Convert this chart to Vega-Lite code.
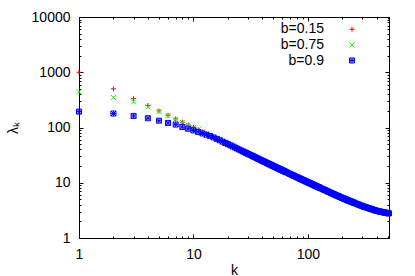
{
"$schema":"https://vega.github.io/schema/vega-lite/v6.json",
"width":310,"height":221,
"autosize":{"type":"none"},
"padding":{"left":79,"top":17,"right":26,"bottom":38},
"config":{"view":{"stroke":"#000","strokeWidth":1},"font":"Liberation Sans",
"axis":{"grid":false,"domain":false,"tickColor":"#000","labelColor":"#000","titleColor":"#000","labelFont":"Liberation Sans","labelFontSize":14,"titleFont":"Liberation Sans","titleFontSize":14,"titleFontWeight":"normal","tickWidth":1},
"legend":{"orient":"none","legendX":266,"legendY":5.3,"labelAlign":"right","labelOffset":-35,"labelFontSize":14,"labelFont":"Liberation Sans","labelColor":"#000","rowPadding":1.6,"padding":0,"symbolStrokeWidth":1,"symbolSize":25,"symbolOpacity":1}},
"data":{"values":[
{"k":1,"b":"b=0.15","v":1000},{"k":2,"b":"b=0.15","v":500},{"k":3,"b":"b=0.15","v":333.3},{"k":4,"b":"b=0.15","v":250},{"k":5,"b":"b=0.15","v":200},{"k":6,"b":"b=0.15","v":166.7},{"k":7,"b":"b=0.15","v":142.9},{"k":8,"b":"b=0.15","v":125},{"k":9,"b":"b=0.15","v":111.1},{"k":10,"b":"b=0.15","v":100},
{"k":11,"b":"b=0.15","v":90.9},{"k":12,"b":"b=0.15","v":83.3},{"k":13,"b":"b=0.15","v":76.9},{"k":14,"b":"b=0.15","v":71.4},{"k":15,"b":"b=0.15","v":66.7},{"k":16,"b":"b=0.15","v":62.5},{"k":17,"b":"b=0.15","v":58.8},{"k":18,"b":"b=0.15","v":55.6},{"k":19,"b":"b=0.15","v":52.6},{"k":20,"b":"b=0.15","v":50},
{"k":21,"b":"b=0.15","v":47.6},{"k":22,"b":"b=0.15","v":45.5},{"k":23,"b":"b=0.15","v":43.5},{"k":24,"b":"b=0.15","v":41.7},{"k":25,"b":"b=0.15","v":40},{"k":26,"b":"b=0.15","v":38.5},{"k":27,"b":"b=0.15","v":37.0},{"k":28,"b":"b=0.15","v":35.7},{"k":29,"b":"b=0.15","v":34.5},{"k":30,"b":"b=0.15","v":33.3},
{"k":31,"b":"b=0.15","v":32.3},{"k":32,"b":"b=0.15","v":31.3},{"k":33,"b":"b=0.15","v":30.3},{"k":34,"b":"b=0.15","v":29.4},{"k":35,"b":"b=0.15","v":28.6},{"k":36,"b":"b=0.15","v":27.8},{"k":37,"b":"b=0.15","v":27.0},{"k":38,"b":"b=0.15","v":26.3},{"k":39,"b":"b=0.15","v":25.6},{"k":40,"b":"b=0.15","v":25.0},
{"k":41,"b":"b=0.15","v":24.4},{"k":42,"b":"b=0.15","v":23.8},{"k":43,"b":"b=0.15","v":23.3},{"k":44,"b":"b=0.15","v":22.7},{"k":45,"b":"b=0.15","v":22.2},{"k":46,"b":"b=0.15","v":21.7},{"k":47,"b":"b=0.15","v":21.3},{"k":48,"b":"b=0.15","v":20.8},{"k":49,"b":"b=0.15","v":20.4},{"k":50,"b":"b=0.15","v":20.0},
{"k":51,"b":"b=0.15","v":19.61},{"k":52,"b":"b=0.15","v":19.25},{"k":53,"b":"b=0.15","v":18.89},{"k":54,"b":"b=0.15","v":18.55},{"k":55,"b":"b=0.15","v":18.22},{"k":56,"b":"b=0.15","v":17.9},{"k":57,"b":"b=0.15","v":17.59},{"k":58,"b":"b=0.15","v":17.3},{"k":59,"b":"b=0.15","v":17.01},{"k":60,"b":"b=0.15","v":16.73},
{"k":61,"b":"b=0.15","v":16.47},{"k":62,"b":"b=0.15","v":16.21},{"k":63,"b":"b=0.15","v":15.96},{"k":64,"b":"b=0.15","v":15.71},{"k":66,"b":"b=0.15","v":15.25},{"k":68,"b":"b=0.15","v":14.81},{"k":70,"b":"b=0.15","v":14.4},{"k":72,"b":"b=0.15","v":14.01},{"k":74,"b":"b=0.15","v":13.64},{"k":76,"b":"b=0.15","v":13.29},
{"k":78,"b":"b=0.15","v":12.96},{"k":80,"b":"b=0.15","v":12.65},{"k":82,"b":"b=0.15","v":12.35},{"k":84,"b":"b=0.15","v":12.07},{"k":86,"b":"b=0.15","v":11.8},{"k":88,"b":"b=0.15","v":11.54},{"k":90,"b":"b=0.15","v":11.29},{"k":92,"b":"b=0.15","v":11.05},{"k":94,"b":"b=0.15","v":10.83},{"k":96,"b":"b=0.15","v":10.61},
{"k":98,"b":"b=0.15","v":10.4},{"k":100,"b":"b=0.15","v":10.2},{"k":102,"b":"b=0.15","v":10.01},{"k":104,"b":"b=0.15","v":9.82},{"k":106,"b":"b=0.15","v":9.65},{"k":108,"b":"b=0.15","v":9.47},{"k":110,"b":"b=0.15","v":9.31},{"k":112,"b":"b=0.15","v":9.15},{"k":114,"b":"b=0.15","v":9.0},{"k":116,"b":"b=0.15","v":8.85},
{"k":118,"b":"b=0.15","v":8.71},{"k":120,"b":"b=0.15","v":8.57},{"k":122,"b":"b=0.15","v":8.43},{"k":124,"b":"b=0.15","v":8.31},{"k":126,"b":"b=0.15","v":8.18},{"k":128,"b":"b=0.15","v":8.06},{"k":132,"b":"b=0.15","v":7.83},{"k":136,"b":"b=0.15","v":7.61},{"k":140,"b":"b=0.15","v":7.4},{"k":144,"b":"b=0.15","v":7.21},
{"k":148,"b":"b=0.15","v":7.03},{"k":152,"b":"b=0.15","v":6.85},{"k":156,"b":"b=0.15","v":6.69},{"k":160,"b":"b=0.15","v":6.53},{"k":164,"b":"b=0.15","v":6.38},{"k":168,"b":"b=0.15","v":6.24},{"k":172,"b":"b=0.15","v":6.1},{"k":176,"b":"b=0.15","v":5.97},{"k":180,"b":"b=0.15","v":5.85},{"k":184,"b":"b=0.15","v":5.73},
{"k":188,"b":"b=0.15","v":5.62},{"k":192,"b":"b=0.15","v":5.51},{"k":196,"b":"b=0.15","v":5.41},{"k":200,"b":"b=0.15","v":5.31},{"k":204,"b":"b=0.15","v":5.22},{"k":208,"b":"b=0.15","v":5.13},{"k":212,"b":"b=0.15","v":5.05},{"k":216,"b":"b=0.15","v":4.97},{"k":220,"b":"b=0.15","v":4.89},{"k":224,"b":"b=0.15","v":4.81},
{"k":228,"b":"b=0.15","v":4.74},{"k":232,"b":"b=0.15","v":4.67},{"k":236,"b":"b=0.15","v":4.61},{"k":240,"b":"b=0.15","v":4.54},{"k":244,"b":"b=0.15","v":4.48},{"k":248,"b":"b=0.15","v":4.42},{"k":252,"b":"b=0.15","v":4.36},{"k":256,"b":"b=0.15","v":4.3},{"k":264,"b":"b=0.15","v":4.19},{"k":272,"b":"b=0.15","v":4.09},
{"k":280,"b":"b=0.15","v":3.99},{"k":288,"b":"b=0.15","v":3.9},{"k":296,"b":"b=0.15","v":3.82},{"k":304,"b":"b=0.15","v":3.74},{"k":312,"b":"b=0.15","v":3.67},{"k":320,"b":"b=0.15","v":3.61},{"k":328,"b":"b=0.15","v":3.55},{"k":336,"b":"b=0.15","v":3.49},{"k":344,"b":"b=0.15","v":3.43},{"k":352,"b":"b=0.15","v":3.38},
{"k":360,"b":"b=0.15","v":3.33},{"k":368,"b":"b=0.15","v":3.28},{"k":376,"b":"b=0.15","v":3.23},{"k":384,"b":"b=0.15","v":3.18},{"k":392,"b":"b=0.15","v":3.14},{"k":400,"b":"b=0.15","v":3.1},{"k":408,"b":"b=0.15","v":3.07},{"k":416,"b":"b=0.15","v":3.04},{"k":424,"b":"b=0.15","v":3.02},{"k":432,"b":"b=0.15","v":2.99},
{"k":440,"b":"b=0.15","v":2.97},{"k":448,"b":"b=0.15","v":2.95},{"k":456,"b":"b=0.15","v":2.92},{"k":464,"b":"b=0.15","v":2.9},{"k":472,"b":"b=0.15","v":2.88},{"k":480,"b":"b=0.15","v":2.86},{"k":488,"b":"b=0.15","v":2.84},{"k":496,"b":"b=0.15","v":2.82},{"k":504,"b":"b=0.15","v":2.8},{"k":512,"b":"b=0.15","v":2.79},
{"k":1,"b":"b=0.75","v":445},{"k":2,"b":"b=0.75","v":350},{"k":3,"b":"b=0.75","v":290},{"k":4,"b":"b=0.75","v":236},{"k":5,"b":"b=0.75","v":195},{"k":6,"b":"b=0.75","v":164},{"k":7,"b":"b=0.75","v":141},{"k":8,"b":"b=0.75","v":124},{"k":9,"b":"b=0.75","v":110.5},{"k":10,"b":"b=0.75","v":99.7},
{"k":11,"b":"b=0.75","v":90.9},{"k":12,"b":"b=0.75","v":83.3},{"k":13,"b":"b=0.75","v":76.9},{"k":14,"b":"b=0.75","v":71.4},{"k":15,"b":"b=0.75","v":66.7},{"k":16,"b":"b=0.75","v":62.5},{"k":17,"b":"b=0.75","v":58.8},{"k":18,"b":"b=0.75","v":55.6},{"k":19,"b":"b=0.75","v":52.6},{"k":20,"b":"b=0.75","v":50},
{"k":21,"b":"b=0.75","v":47.6},{"k":22,"b":"b=0.75","v":45.5},{"k":23,"b":"b=0.75","v":43.5},{"k":24,"b":"b=0.75","v":41.7},{"k":25,"b":"b=0.75","v":40},{"k":26,"b":"b=0.75","v":38.5},{"k":27,"b":"b=0.75","v":37.0},{"k":28,"b":"b=0.75","v":35.7},{"k":29,"b":"b=0.75","v":34.5},{"k":30,"b":"b=0.75","v":33.3},
{"k":31,"b":"b=0.75","v":32.3},{"k":32,"b":"b=0.75","v":31.3},{"k":33,"b":"b=0.75","v":30.3},{"k":34,"b":"b=0.75","v":29.4},{"k":35,"b":"b=0.75","v":28.6},{"k":36,"b":"b=0.75","v":27.8},{"k":37,"b":"b=0.75","v":27.0},{"k":38,"b":"b=0.75","v":26.3},{"k":39,"b":"b=0.75","v":25.6},{"k":40,"b":"b=0.75","v":25.0},
{"k":41,"b":"b=0.75","v":24.4},{"k":42,"b":"b=0.75","v":23.8},{"k":43,"b":"b=0.75","v":23.3},{"k":44,"b":"b=0.75","v":22.7},{"k":45,"b":"b=0.75","v":22.2},{"k":46,"b":"b=0.75","v":21.7},{"k":47,"b":"b=0.75","v":21.3},{"k":48,"b":"b=0.75","v":20.8},{"k":49,"b":"b=0.75","v":20.4},{"k":50,"b":"b=0.75","v":20.0},
{"k":51,"b":"b=0.75","v":19.61},{"k":52,"b":"b=0.75","v":19.25},{"k":53,"b":"b=0.75","v":18.89},{"k":54,"b":"b=0.75","v":18.55},{"k":55,"b":"b=0.75","v":18.22},{"k":56,"b":"b=0.75","v":17.9},{"k":57,"b":"b=0.75","v":17.59},{"k":58,"b":"b=0.75","v":17.3},{"k":59,"b":"b=0.75","v":17.01},{"k":60,"b":"b=0.75","v":16.73},
{"k":61,"b":"b=0.75","v":16.47},{"k":62,"b":"b=0.75","v":16.21},{"k":63,"b":"b=0.75","v":15.96},{"k":64,"b":"b=0.75","v":15.71},{"k":66,"b":"b=0.75","v":15.25},{"k":68,"b":"b=0.75","v":14.81},{"k":70,"b":"b=0.75","v":14.4},{"k":72,"b":"b=0.75","v":14.01},{"k":74,"b":"b=0.75","v":13.64},{"k":76,"b":"b=0.75","v":13.29},
{"k":78,"b":"b=0.75","v":12.96},{"k":80,"b":"b=0.75","v":12.65},{"k":82,"b":"b=0.75","v":12.35},{"k":84,"b":"b=0.75","v":12.07},{"k":86,"b":"b=0.75","v":11.8},{"k":88,"b":"b=0.75","v":11.54},{"k":90,"b":"b=0.75","v":11.29},{"k":92,"b":"b=0.75","v":11.05},{"k":94,"b":"b=0.75","v":10.83},{"k":96,"b":"b=0.75","v":10.61},
{"k":98,"b":"b=0.75","v":10.4},{"k":100,"b":"b=0.75","v":10.2},{"k":102,"b":"b=0.75","v":10.01},{"k":104,"b":"b=0.75","v":9.82},{"k":106,"b":"b=0.75","v":9.65},{"k":108,"b":"b=0.75","v":9.47},{"k":110,"b":"b=0.75","v":9.31},{"k":112,"b":"b=0.75","v":9.15},{"k":114,"b":"b=0.75","v":9.0},{"k":116,"b":"b=0.75","v":8.85},
{"k":118,"b":"b=0.75","v":8.71},{"k":120,"b":"b=0.75","v":8.57},{"k":122,"b":"b=0.75","v":8.43},{"k":124,"b":"b=0.75","v":8.31},{"k":126,"b":"b=0.75","v":8.18},{"k":128,"b":"b=0.75","v":8.06},{"k":132,"b":"b=0.75","v":7.83},{"k":136,"b":"b=0.75","v":7.61},{"k":140,"b":"b=0.75","v":7.4},{"k":144,"b":"b=0.75","v":7.21},
{"k":148,"b":"b=0.75","v":7.03},{"k":152,"b":"b=0.75","v":6.85},{"k":156,"b":"b=0.75","v":6.69},{"k":160,"b":"b=0.75","v":6.53},{"k":164,"b":"b=0.75","v":6.38},{"k":168,"b":"b=0.75","v":6.24},{"k":172,"b":"b=0.75","v":6.1},{"k":176,"b":"b=0.75","v":5.97},{"k":180,"b":"b=0.75","v":5.85},{"k":184,"b":"b=0.75","v":5.73},
{"k":188,"b":"b=0.75","v":5.62},{"k":192,"b":"b=0.75","v":5.51},{"k":196,"b":"b=0.75","v":5.41},{"k":200,"b":"b=0.75","v":5.31},{"k":204,"b":"b=0.75","v":5.22},{"k":208,"b":"b=0.75","v":5.13},{"k":212,"b":"b=0.75","v":5.05},{"k":216,"b":"b=0.75","v":4.97},{"k":220,"b":"b=0.75","v":4.89},{"k":224,"b":"b=0.75","v":4.81},
{"k":228,"b":"b=0.75","v":4.74},{"k":232,"b":"b=0.75","v":4.67},{"k":236,"b":"b=0.75","v":4.61},{"k":240,"b":"b=0.75","v":4.54},{"k":244,"b":"b=0.75","v":4.48},{"k":248,"b":"b=0.75","v":4.42},{"k":252,"b":"b=0.75","v":4.36},{"k":256,"b":"b=0.75","v":4.3},{"k":264,"b":"b=0.75","v":4.19},{"k":272,"b":"b=0.75","v":4.09},
{"k":280,"b":"b=0.75","v":3.99},{"k":288,"b":"b=0.75","v":3.9},{"k":296,"b":"b=0.75","v":3.82},{"k":304,"b":"b=0.75","v":3.74},{"k":312,"b":"b=0.75","v":3.67},{"k":320,"b":"b=0.75","v":3.61},{"k":328,"b":"b=0.75","v":3.55},{"k":336,"b":"b=0.75","v":3.49},{"k":344,"b":"b=0.75","v":3.43},{"k":352,"b":"b=0.75","v":3.38},
{"k":360,"b":"b=0.75","v":3.33},{"k":368,"b":"b=0.75","v":3.28},{"k":376,"b":"b=0.75","v":3.23},{"k":384,"b":"b=0.75","v":3.18},{"k":392,"b":"b=0.75","v":3.14},{"k":400,"b":"b=0.75","v":3.1},{"k":408,"b":"b=0.75","v":3.07},{"k":416,"b":"b=0.75","v":3.04},{"k":424,"b":"b=0.75","v":3.02},{"k":432,"b":"b=0.75","v":2.99},
{"k":440,"b":"b=0.75","v":2.97},{"k":448,"b":"b=0.75","v":2.95},{"k":456,"b":"b=0.75","v":2.92},{"k":464,"b":"b=0.75","v":2.9},{"k":472,"b":"b=0.75","v":2.88},{"k":480,"b":"b=0.75","v":2.86},{"k":488,"b":"b=0.75","v":2.84},{"k":496,"b":"b=0.75","v":2.82},{"k":504,"b":"b=0.75","v":2.8},{"k":512,"b":"b=0.75","v":2.79},
{"k":1,"b":"b=0.9","v":194},{"k":2,"b":"b=0.9","v":179},{"k":3,"b":"b=0.9","v":162},{"k":4,"b":"b=0.9","v":147},{"k":5,"b":"b=0.9","v":133},{"k":6,"b":"b=0.9","v":121},{"k":7,"b":"b=0.9","v":113},{"k":8,"b":"b=0.9","v":102},{"k":9,"b":"b=0.9","v":95},{"k":10,"b":"b=0.9","v":88.5},
{"k":11,"b":"b=0.9","v":82.5},{"k":12,"b":"b=0.9","v":78},{"k":13,"b":"b=0.9","v":74},{"k":14,"b":"b=0.9","v":70},{"k":15,"b":"b=0.9","v":66},{"k":16,"b":"b=0.9","v":62.3},{"k":17,"b":"b=0.9","v":58.6},{"k":18,"b":"b=0.9","v":55.5},{"k":19,"b":"b=0.9","v":52.5},{"k":20,"b":"b=0.9","v":50},
{"k":21,"b":"b=0.9","v":47.6},{"k":22,"b":"b=0.9","v":45.5},{"k":23,"b":"b=0.9","v":43.5},{"k":24,"b":"b=0.9","v":41.7},{"k":25,"b":"b=0.9","v":40},{"k":26,"b":"b=0.9","v":38.5},{"k":27,"b":"b=0.9","v":37.0},{"k":28,"b":"b=0.9","v":35.7},{"k":29,"b":"b=0.9","v":34.5},{"k":30,"b":"b=0.9","v":33.3},
{"k":31,"b":"b=0.9","v":32.3},{"k":32,"b":"b=0.9","v":31.3},{"k":33,"b":"b=0.9","v":30.3},{"k":34,"b":"b=0.9","v":29.4},{"k":35,"b":"b=0.9","v":28.6},{"k":36,"b":"b=0.9","v":27.8},{"k":37,"b":"b=0.9","v":27.0},{"k":38,"b":"b=0.9","v":26.3},{"k":39,"b":"b=0.9","v":25.6},{"k":40,"b":"b=0.9","v":25.0},
{"k":41,"b":"b=0.9","v":24.4},{"k":42,"b":"b=0.9","v":23.8},{"k":43,"b":"b=0.9","v":23.3},{"k":44,"b":"b=0.9","v":22.7},{"k":45,"b":"b=0.9","v":22.2},{"k":46,"b":"b=0.9","v":21.7},{"k":47,"b":"b=0.9","v":21.3},{"k":48,"b":"b=0.9","v":20.8},{"k":49,"b":"b=0.9","v":20.4},{"k":50,"b":"b=0.9","v":20.0},
{"k":51,"b":"b=0.9","v":19.61},{"k":52,"b":"b=0.9","v":19.25},{"k":53,"b":"b=0.9","v":18.89},{"k":54,"b":"b=0.9","v":18.55},{"k":55,"b":"b=0.9","v":18.22},{"k":56,"b":"b=0.9","v":17.9},{"k":57,"b":"b=0.9","v":17.59},{"k":58,"b":"b=0.9","v":17.3},{"k":59,"b":"b=0.9","v":17.01},{"k":60,"b":"b=0.9","v":16.73},
{"k":61,"b":"b=0.9","v":16.47},{"k":62,"b":"b=0.9","v":16.21},{"k":63,"b":"b=0.9","v":15.96},{"k":64,"b":"b=0.9","v":15.71},{"k":66,"b":"b=0.9","v":15.25},{"k":68,"b":"b=0.9","v":14.81},{"k":70,"b":"b=0.9","v":14.4},{"k":72,"b":"b=0.9","v":14.01},{"k":74,"b":"b=0.9","v":13.64},{"k":76,"b":"b=0.9","v":13.29},
{"k":78,"b":"b=0.9","v":12.96},{"k":80,"b":"b=0.9","v":12.65},{"k":82,"b":"b=0.9","v":12.35},{"k":84,"b":"b=0.9","v":12.07},{"k":86,"b":"b=0.9","v":11.8},{"k":88,"b":"b=0.9","v":11.54},{"k":90,"b":"b=0.9","v":11.29},{"k":92,"b":"b=0.9","v":11.05},{"k":94,"b":"b=0.9","v":10.83},{"k":96,"b":"b=0.9","v":10.61},
{"k":98,"b":"b=0.9","v":10.4},{"k":100,"b":"b=0.9","v":10.2},{"k":102,"b":"b=0.9","v":10.01},{"k":104,"b":"b=0.9","v":9.82},{"k":106,"b":"b=0.9","v":9.65},{"k":108,"b":"b=0.9","v":9.47},{"k":110,"b":"b=0.9","v":9.31},{"k":112,"b":"b=0.9","v":9.15},{"k":114,"b":"b=0.9","v":9.0},{"k":116,"b":"b=0.9","v":8.85},
{"k":118,"b":"b=0.9","v":8.71},{"k":120,"b":"b=0.9","v":8.57},{"k":122,"b":"b=0.9","v":8.43},{"k":124,"b":"b=0.9","v":8.31},{"k":126,"b":"b=0.9","v":8.18},{"k":128,"b":"b=0.9","v":8.06},{"k":132,"b":"b=0.9","v":7.83},{"k":136,"b":"b=0.9","v":7.61},{"k":140,"b":"b=0.9","v":7.4},{"k":144,"b":"b=0.9","v":7.21},
{"k":148,"b":"b=0.9","v":7.03},{"k":152,"b":"b=0.9","v":6.85},{"k":156,"b":"b=0.9","v":6.69},{"k":160,"b":"b=0.9","v":6.53},{"k":164,"b":"b=0.9","v":6.38},{"k":168,"b":"b=0.9","v":6.24},{"k":172,"b":"b=0.9","v":6.1},{"k":176,"b":"b=0.9","v":5.97},{"k":180,"b":"b=0.9","v":5.85},{"k":184,"b":"b=0.9","v":5.73},
{"k":188,"b":"b=0.9","v":5.62},{"k":192,"b":"b=0.9","v":5.51},{"k":196,"b":"b=0.9","v":5.41},{"k":200,"b":"b=0.9","v":5.31},{"k":204,"b":"b=0.9","v":5.22},{"k":208,"b":"b=0.9","v":5.13},{"k":212,"b":"b=0.9","v":5.05},{"k":216,"b":"b=0.9","v":4.97},{"k":220,"b":"b=0.9","v":4.89},{"k":224,"b":"b=0.9","v":4.81},
{"k":228,"b":"b=0.9","v":4.74},{"k":232,"b":"b=0.9","v":4.67},{"k":236,"b":"b=0.9","v":4.61},{"k":240,"b":"b=0.9","v":4.54},{"k":244,"b":"b=0.9","v":4.48},{"k":248,"b":"b=0.9","v":4.42},{"k":252,"b":"b=0.9","v":4.36},{"k":256,"b":"b=0.9","v":4.3},{"k":264,"b":"b=0.9","v":4.19},{"k":272,"b":"b=0.9","v":4.09},
{"k":280,"b":"b=0.9","v":3.99},{"k":288,"b":"b=0.9","v":3.9},{"k":296,"b":"b=0.9","v":3.82},{"k":304,"b":"b=0.9","v":3.74},{"k":312,"b":"b=0.9","v":3.67},{"k":320,"b":"b=0.9","v":3.61},{"k":328,"b":"b=0.9","v":3.55},{"k":336,"b":"b=0.9","v":3.49},{"k":344,"b":"b=0.9","v":3.43},{"k":352,"b":"b=0.9","v":3.38},
{"k":360,"b":"b=0.9","v":3.33},{"k":368,"b":"b=0.9","v":3.28},{"k":376,"b":"b=0.9","v":3.23},{"k":384,"b":"b=0.9","v":3.18},{"k":392,"b":"b=0.9","v":3.14},{"k":400,"b":"b=0.9","v":3.1},{"k":408,"b":"b=0.9","v":3.07},{"k":416,"b":"b=0.9","v":3.04},{"k":424,"b":"b=0.9","v":3.02},{"k":432,"b":"b=0.9","v":2.99},
{"k":440,"b":"b=0.9","v":2.97},{"k":448,"b":"b=0.9","v":2.95},{"k":456,"b":"b=0.9","v":2.92},{"k":464,"b":"b=0.9","v":2.9},{"k":472,"b":"b=0.9","v":2.88},{"k":480,"b":"b=0.9","v":2.86},{"k":488,"b":"b=0.9","v":2.84},{"k":496,"b":"b=0.9","v":2.82},{"k":504,"b":"b=0.9","v":2.8},{"k":512,"b":"b=0.9","v":2.79}
]},
"resolve":{"axis":{"x":"independent","y":"independent"}},
"layer":[
{"mark":{"type":"point","filled":false,"opacity":1,"strokeWidth":1,"size":25,"clip":false},
"encoding":{
"x":{"field":"k","type":"quantitative","scale":{"type":"log","domain":[1,512],"nice":false,"zero":false},
"axis":{"orient":"bottom","values":[1,2,3,4,5,6,7,8,9,10,20,30,40,50,60,70,80,90,100,200,300,400,500],"format":"d","labelExpr":"abs(log(datum.value)/LN10-round(log(datum.value)/LN10))<0.000001 ? datum.label : ''","tickSize":{"condition":{"test":"abs(log(datum.value)/LN10-round(log(datum.value)/LN10))<0.000001","value":-4},"value":-2},"labelPadding":13,"title":"k","titlePadding":0,"labelFlush":false,"labelOverlap":false}},
"y":{"field":"v","type":"quantitative","scale":{"type":"log","domain":[1,10000],"nice":false,"zero":false},
"axis":{"orient":"left","values":[1,2,3,4,5,6,7,8,9,10,20,30,40,50,60,70,80,90,100,200,300,400,500,600,700,800,900,1000,2000,3000,4000,5000,6000,7000,8000,9000,10000],"format":"d","labelExpr":"abs(log(datum.value)/LN10-round(log(datum.value)/LN10))<0.000001 ? datum.label : ''","tickSize":{"condition":{"test":"abs(log(datum.value)/LN10-round(log(datum.value)/LN10))<0.000001","value":-4},"value":-2},"labelPadding":13,"title":"λₖ","titlePadding":11,"labelFlush":false,"labelOverlap":false}},
"color":{"field":"b","type":"nominal","sort":null,"scale":{"domain":["b=0.15","b=0.75","b=0.9"],"range":["#ff0000","#00ff00","#0000ff"]},"legend":{"title":null}},
"shape":{"field":"b","type":"nominal","sort":null,"scale":{"domain":["b=0.15","b=0.75","b=0.9"],"range":["M-1,0L1,0M0,-1L0,1","M-1,-1L1,1M-1,1L1,-1","M-1,0L1,0M0,-1L0,1M-1,-1L1,1M-1,1L1,-1M-1,-1L1,-1L1,1L-1,1Z"]},"legend":{"title":null}}
}},
{"mark":{"type":"point","opacity":0},
"encoding":{
"x":{"field":"k","type":"quantitative","scale":{"type":"log","domain":[1,512],"nice":false,"zero":false},
"axis":{"orient":"top","values":[1,2,3,4,5,6,7,8,9,10,20,30,40,50,60,70,80,90,100,200,300,400,500],"labels":false,"title":null,"tickSize":{"condition":{"test":"abs(log(datum.value)/LN10-round(log(datum.value)/LN10))<0.000001","value":-4},"value":-2}}},
"y":{"field":"v","type":"quantitative","scale":{"type":"log","domain":[1,10000],"nice":false,"zero":false},
"axis":{"orient":"right","values":[1,2,3,4,5,6,7,8,9,10,20,30,40,50,60,70,80,90,100,200,300,400,500,600,700,800,900,1000,2000,3000,4000,5000,6000,7000,8000,9000,10000],"labels":false,"title":null,"tickSize":{"condition":{"test":"abs(log(datum.value)/LN10-round(log(datum.value)/LN10))<0.000001","value":-4},"value":-2}}}
}}
]
}
